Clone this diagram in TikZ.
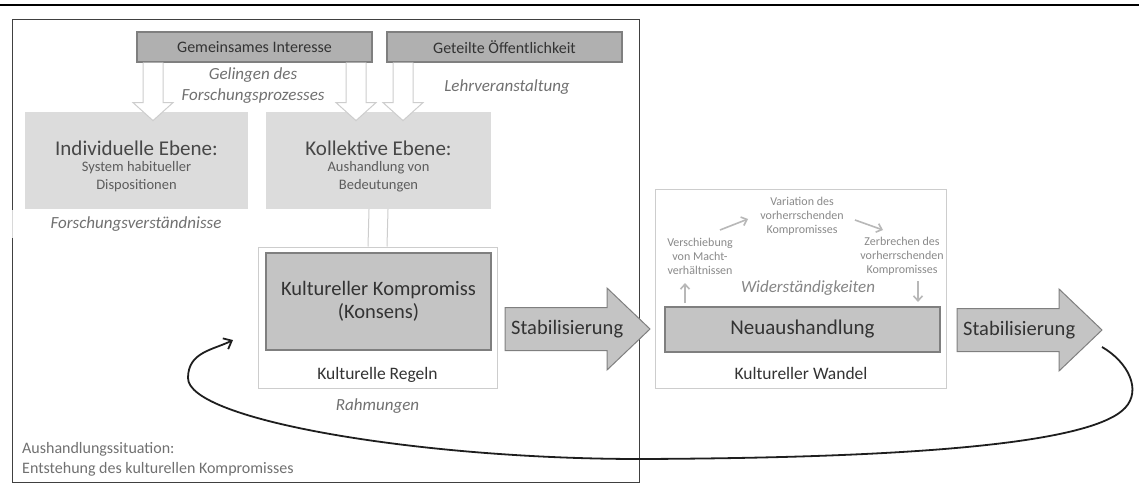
\documentclass[tikz,border=0pt]{standalone}
\usepackage{fontspec}
\setmainfont{Carlito}
\usetikzlibrary{arrows.meta,calc}

\definecolor{boxtop}{HTML}{B0B0B0}
\definecolor{boxmid}{HTML}{C4C4C4}
\definecolor{boxlight}{HTML}{DCDCDC}
\definecolor{boxline}{HTML}{7F7F7F}
\definecolor{frameline}{HTML}{CDCDCD}
\definecolor{outerline}{HTML}{404040}
\definecolor{txtdark}{HTML}{333333}
\definecolor{txtsub}{HTML}{5C5C5C}
\definecolor{txtital}{HTML}{707070}
\definecolor{txtsmall}{HTML}{8A8A8A}
\definecolor{smallarrow}{HTML}{B8B8B8}
\definecolor{loopline}{HTML}{1E1E1E}

\newcommand\fsz[2]{\fontsize{#1}{#2}\selectfont}

% hollow block arrow pointing down; #1 = top centre of the shaft
\newcommand\hollowdown[1]{%
  \fill[white] (#1) ++(-10,0) -- ++(0,40) -- ++(-10,0) -- ++(20,18)
     -- ++(20,-18) -- ++(-10,0) -- ++(0,-40) -- cycle;
  \draw[hollowline] (#1) ++(-10,0) -- ++(0,40) -- ++(-10,0) -- ++(20,18)
     -- ++(20,-18) -- ++(-10,0) -- ++(0,-40);
}
% grey block arrow pointing right; #1 = middle of the shaft's left end
\newcommand\blockright[1]{%
  \draw[blockarrow] (#1) ++(0,-21.5) -- ++(102,0) -- ++(0,-19.5) -- ++(43,41)
     -- ++(-43,41) -- ++(0,-19.5) -- ++(-102,0) -- cycle;
}

\tikzset{
  darkbox/.style={draw=boxline, line width=1.2pt, fill=boxtop, inner sep=0pt,
    text=txtdark, font=\fsz{16}{18}},
  midbox/.style={draw=boxline, line width=1.2pt, fill=boxmid, inner sep=0pt,
    text=txtdark},
  lightbox/.style={fill=boxlight, inner sep=0pt},
  framebox/.style={draw=frameline, line width=1pt, fill=white, inner sep=0pt},
  hollowline/.style={draw=frameline, line width=1pt},
  blockarrow/.style={draw=boxline, line width=1pt, fill=boxmid},
  head/.style={text=txtdark!90, font=\fsz{21}{23}, inner sep=0pt},
  sub/.style={text=txtsub, font=\fsz{14.5}{18}, align=center, inner sep=0pt},
  ital/.style={text=txtital, font=\fsz{17}{21}\itshape, align=center, inner sep=0pt},
  small/.style={text=txtsmall, font=\fsz{12}{14}, align=center, inner sep=0pt},
  plain/.style={text=txtdark, inner sep=0pt},
  smallarr/.style={draw=smallarrow, line width=1.6pt,
    -{Straight Barb[length=5pt,width=9pt]}},
}

\begin{document}
\begin{tikzpicture}[x=1pt,y=-1pt]
\useasboundingbox (0,0) rectangle (1139,495);

% rule across the top
\draw[line width=2.4pt, black] (0,5) coordinate (ruleL) -- (1139,5) coordinate (ruleR);

% outer frame: the negotiation situation
\node[draw=outerline, line width=1pt, minimum width=627pt, minimum height=462pt,
  inner sep=0pt] (situation) at (325.5,251) {};

% shared interest / shared public
\node[darkbox, minimum width=235pt, minimum height=30pt] (gem) at (254.5,47) {Gemeinsames Interesse};
\node[darkbox, minimum width=235pt, minimum height=30pt] (get) at (504.5,47) {Geteilte Öffentlichkeit};

% the two levels
\node[lightbox, minimum width=223pt, minimum height=97pt] (ind) at (136.5,160.5) {};
\node[lightbox, minimum width=225pt, minimum height=97pt] (kol) at (378.5,160.5) {};
\node[head] (indH) at (136.5,148) {Individuelle Ebene:};
\node[sub]  (indS) at (136.5,177) {System habitueller\\Dispositionen};
\node[head] (kolH) at (378.5,148) {Kollektive Ebene:};
\node[sub]  (kolS) at (378.5,177) {Aushandlung von\\Bedeutungen};

% labels around the levels
\node[fill=white, fill opacity=0.8, text opacity=1, minimum width=238pt,
  minimum height=28pt, inner sep=0pt] (forschBg) at (131,224) {};
\node[ital] (forsch) at (136,224) {Forschungsverständnisse};
\node[ital] (gelingen) at (253,86) {Gelingen des\\Forschungsprozesses};
\node[ital] (lehr) at (507,87) {Lehrveranstaltung};

% cultural rules frame and the compromise
\node[framebox, minimum width=239pt, minimum height=141pt] (regeln) at (377.5,317.5) {};
\node[midbox, minimum width=225pt, minimum height=97pt, align=center,
  font=\fsz{20.5}{23}] (komp) at (378.5,301.5) {Kultureller Kompromiss\\(Konsens)};
\node[plain, font=\fsz{17.5}{20}] (regelnT) at (377.5,375) {Kulturelle Regeln};
\node[ital] (rahmung) at (377.5,406) {Rahmungen};

% link from the collective level into the frame
\fill[white] ($(kol.south)+(-9.5,0)$) rectangle ($(regeln.north)+(9.5,0)$);
\draw[hollowline] ($(kol.south)+(-9.5,0)$) -- ($(regeln.north)+(-9.5,0)$);
\draw[hollowline] ($(kol.south)+(9.5,0)$) -- ($(regeln.north)+(9.5,0)$);

% hollow arrows from the top boxes
\hollowdown{$(gem.south)+(-101.5,0)$}
\hollowdown{$(gem.south)+(101.5,0)$}
\hollowdown{$(get.south)+(-101.5,0)$}

% situation caption
\node[text=txtital, font=\fsz{16}{20}, align=left, anchor=west, inner sep=0pt]
  (situationT) at (22,459) {Aushandlungssituation:\\Entstehung des kulturellen Kompromisses};

% first stabilisation
\coordinate (s1) at (505,329);
\blockright{s1}
\node[plain, font=\fsz{20.5}{22}, anchor=west] (stab1) at ($(s1)+(6,0)$) {Stabilisierung};

% cultural change frame
\node[framebox, minimum width=291pt, minimum height=199pt] (wandel) at (800.5,288.5) {};
\node[midbox, minimum width=275pt, minimum height=45pt, font=\fsz{21}{23}] (neu) at (802.5,329.5) {Neuaushandlung};
\node[plain, font=\fsz{17.5}{20}] (wandelT) at (801,373) {Kultureller Wandel};
\node[ital, text=txtital!85] (wider) at (808,288) {Widerständigkeiten};
\node[small] (versch) at (700,256) {Verschiebung\\von Macht-\\verhältnissen};
\node[small] (variation) at (802,216) {Variation des\\vorherrschenden\\Kompromisses};
\node[small] (zerbr) at (902,256) {Zerbrechen des\\vorherrschenden\\Kompromisses};

% the cycle of change
\coordinate (c1a) at (685,303); \coordinate (c1b) at (685,283);
\coordinate (c2a) at (720,230); \coordinate (c2b) at (748,219);
\coordinate (c3a) at (855,220); \coordinate (c3b) at (883,230);
\coordinate (c4a) at (918,281); \coordinate (c4b) at (918,302);
\draw[smallarr] (c1a) -- (c1b);
\draw[smallarr] (c2a) -- (c2b);
\draw[smallarr] (c3a) -- (c3b);
\draw[smallarr] (c4a) -- (c4b);

% second stabilisation
\coordinate (s2) at (957,330);
\blockright{s2}
\node[plain, font=\fsz{20.5}{22}, anchor=west] (stab2) at ($(s2)+(6,0)$) {Stabilisierung};

% loop back to the compromise
\coordinate (loopStart) at (1102,347);
\coordinate (loopEnd) at (233,340);
\draw[loopline, line width=1.8pt, -{Straight Barb[length=7pt,width=12pt]}]
  (loopStart) .. controls (1128,362) and (1142,390) .. (1125,408)
  .. controls (1090,445) and (900,458) .. (640,459)
  .. controls (420,459) and (188,420) .. (188,378)
  .. controls (188,352) and (213,350) .. (loopEnd);

\end{tikzpicture}
\end{document}
